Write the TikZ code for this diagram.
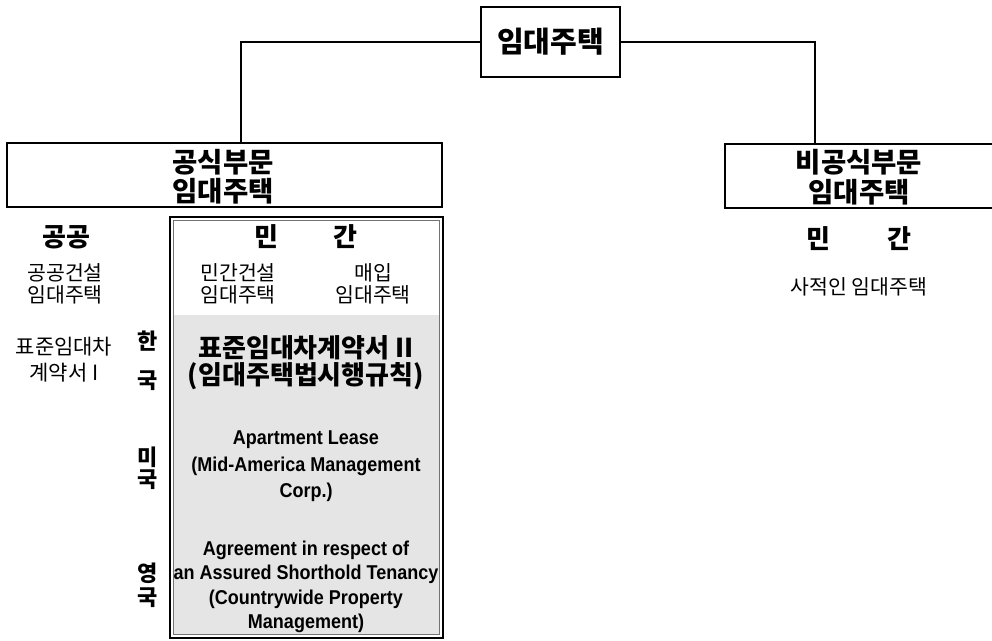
\documentclass[tikz,border=0pt]{standalone}
\usepackage{fontspec}
\newfontfamily\kr{Noto Sans CJK KR}
\newfontfamily\eng[FakeStretch=0.9]{Liberation Sans}
\begin{document}
\begin{tikzpicture}[x=1pt,y=-1pt,
  box/.style={draw, line width=2.2pt, inner sep=0pt},
  conn/.style={line width=1.8pt},
  boxtext/.style={font=\kr\bfseries\fontsize{27.5}{29.5}\selectfont, align=center},
  head/.style={font=\kr\bfseries\fontsize{26}{26}\selectfont, align=center},
  small/.style={font=\kr\fontsize{20.5}{22}\selectfont, align=center},
  shade/.style={font=\kr\bfseries\fontsize{26}{27}\selectfont, align=center},
  eng/.style={font=\eng\bfseries\fontsize{20}{26.5}\selectfont, align=center}
]
\useasboundingbox (0,0) rectangle (992,640);
\begin{scope}
\clip (0,0) rectangle (992,640);
% top
\node[box, minimum width=139pt, minimum height=70pt, font=\kr\bfseries\fontsize{29}{30}\selectfont] (top) at (550.5,42) {임대주택};
\node[box, minimum width=435pt, minimum height=64pt] (pub) at (224.5,175) {};
\node[box, minimum width=272pt, minimum height=64pt] (priv) at (861,176) {};
\end{scope}
\node[boxtext] (pubt) at (223,176.5) {공식부문\\임대주택};
\node[boxtext] (privt) at (859,177) {비공식부문\\임대주택};
\coordinate (pl) at (241,100);
\coordinate (pr) at (815,100);
\draw[conn] (top.west) -| (pub.north -| pl);
\draw[conn] (top.east) -| (priv.north -| pr);

% private frame
\fill[black!10] (173,315) rectangle (440,635);
\draw[line width=1.3pt] (170,217) rectangle (443,638);
\draw[line width=0.8pt, black!55] (173.5,220.5) rectangle (439.5,634.5);

% left column
\node[head] (gg) at (66,237) {공공};
\node[small] (ggc) at (65,284) {공공건설\\임대주택};
\node[small, font=\kr\fontsize{21}{26}\selectfont] (std1) at (64,360) {표준임대차\\계약서 I};

\node[head] (mg) at (306,237) {민\hspace{56pt}간};
\node[small] (mgc) at (238,284) {민간건설\\임대주택};
\node[small] (mi) at (373,284) {매입\\임대주택};

% countries
\node[head, font=\kr\bfseries\fontsize{22}{39}\selectfont] (kr) at (148,361) {한\\국};
\node[head, font=\kr\bfseries\fontsize{22}{22}\selectfont] (us) at (148,468) {미\\국};
\node[head, font=\kr\bfseries\fontsize{22}{24}\selectfont] (uk) at (148,585) {영\\국};

\node[shade] (std2) at (306,362.5) {표준임대차계약서 II\\(임대주택법시행규칙)};
\node[eng] (usl) at (306,466.5) {Apartment Lease\\(Mid-America Management\\Corp.)};
\node[eng, font=\eng\bfseries\fontsize{20}{24.3}\selectfont] (ukl) at (306,587) {Agreement in respect of\\an Assured Shorthold Tenancy\\(Countrywide Property\\Management)};

% right column
\node[head] (mg2) at (859,239) {민\hspace{58pt}간};
\node[small] (sj) at (859,287) {사적인 임대주택};
\end{tikzpicture}
\end{document}
